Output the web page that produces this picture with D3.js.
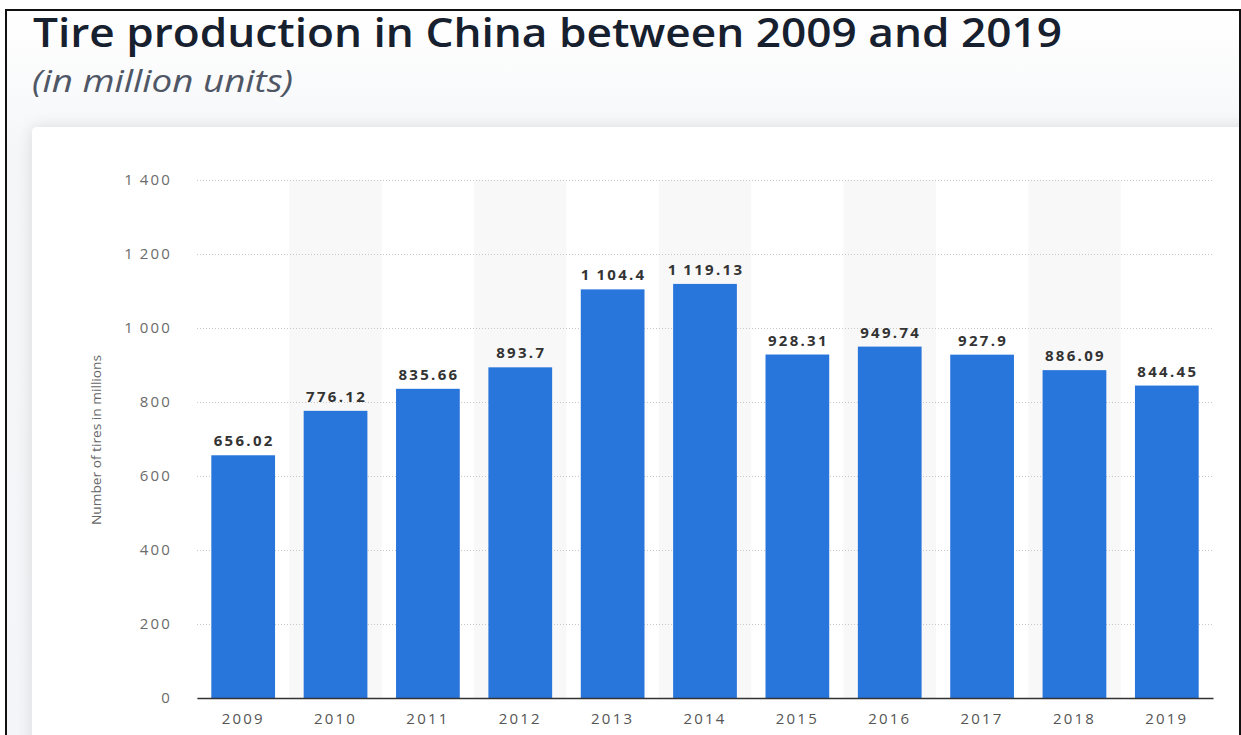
<!DOCTYPE html>
<html>
<head>
<meta charset="utf-8">
<script src="https://cdn.jsdelivr.net/npm/d3@7"></script>
<style>
  body { margin: 0; background: #ffffff; }
  svg { display: block; }
</style>
</head>
<body>
<svg id="chart"></svg>
<script>
// chart values
const years = ["2009", "2010", "2011", "2012", "2013", "2014", "2015", "2016", "2017", "2018", "2019"];
const production = [656.02, 776.12, 835.66, 893.7, 1104.4, 1119.13, 928.31, 949.74, 927.9, 886.09, 844.45];
const yTicks = [0, 200, 400, 600, 800, 1000, 1200, 1400];

const width = 1241, height = 735;
const margin = { top: 180, right: 28, bottom: 37, left: 197 };

const svg = d3.select("#chart").attr("width", width).attr("height", height);

const defs = svg.append("defs");
const bgGrad = defs.append("linearGradient").attr("id", "bg").attr("x1", 0).attr("y1", 0).attr("x2", 0).attr("y2", 1);
bgGrad.append("stop").attr("offset", "0").attr("stop-color", "#ffffff");
bgGrad.append("stop").attr("offset", "0.2").attr("stop-color", "#f5f6f8");
bgGrad.append("stop").attr("offset", "1").attr("stop-color", "#f4f5f8");
const shadow = defs.append("filter").attr("id", "shadow").attr("x", -0.05).attr("y", -0.1).attr("width", 1.1).attr("height", 1.2);
shadow.append("feGaussianBlur").attr("in", "SourceAlpha").attr("stdDeviation", 8);
shadow.append("feComponentTransfer").append("feFuncA").attr("type", "linear").attr("slope", 0.12);
const merge = shadow.append("feMerge");
merge.append("feMergeNode");
merge.append("feMergeNode").attr("in", "SourceGraphic");

// page background and card
svg.append("rect").attr("x", 6).attr("y", 10).attr("width", 1233).attr("height", 725).attr("fill", "url(#bg)");
svg.append("rect")
    .attr("x", 32).attr("y", 127).attr("width", 1240).attr("height", 640)
    .attr("rx", 5).attr("fill", "#ffffff").attr("filter", "url(#shadow)");

// frame lines
svg.append("line").attr("x1", 6).attr("x2", 6).attr("y1", 9).attr("y2", 735).attr("stroke", "#111").attr("stroke-width", 2);
svg.append("line").attr("x1", 5).attr("x2", 1241).attr("y1", 10).attr("y2", 10).attr("stroke", "#111").attr("stroke-width", 2);
svg.append("line").attr("x1", 1240).attr("x2", 1240).attr("y1", 9).attr("y2", 735).attr("stroke", "#111").attr("stroke-width", 2);

// titles
svg.append("text")
    .attr("x", 33).attr("y", 47)
    .attr("font-family", "Open Sans").attr("font-weight", 600).attr("font-size", 40)
    .attr("textLength", 1029).attr("lengthAdjust", "spacingAndGlyphs")
    .attr("fill", "#17202e")
    .text("Tire production in China between 2009 and 2019");
svg.append("text")
    .attr("x", 32).attr("y", 92)
    .attr("font-family", "Open Sans").attr("font-style", "italic").attr("font-size", 31)
    .attr("textLength", 261).attr("lengthAdjust", "spacingAndGlyphs")
    .attr("fill", "#4f5766")
    .text("(in million units)");

const innerW = width - margin.left - margin.right;
const innerH = height - margin.top - margin.bottom;

const x = d3.scaleBand().domain(years).range([0, innerW]).padding(0);
const y = d3.scaleLinear().domain([0, 1400]).range([innerH, 0]);

const fmt = d3.formatLocale({ decimal: ".", thousands: "\u2009", grouping: [3], currency: ["", ""] });
const tickFmt = fmt.format(",");
const valFmt = v => fmt.format(",")(v);

const chart = svg.append("g").attr("transform", `translate(${margin.left},${margin.top})`);

// alternating column shading
chart.selectAll(".stripe")
    .data(years.filter((d, i) => i % 2 === 1))
    .join("rect")
    .attr("class", "stripe")
    .attr("x", d => x(d))
    .attr("y", 0)
    .attr("width", x.bandwidth())
    .attr("height", innerH)
    .attr("fill", "#f8f8f8");

// y axis with dotted grid
const yAxis = d3.axisLeft(y).tickValues(yTicks).tickSize(-innerW).tickPadding(25).tickFormat(tickFmt);
const yAxisG = chart.append("g").call(yAxis);
yAxisG.select(".domain").remove();
yAxisG.selectAll(".tick line")
    .attr("stroke", "#c8c8c8").attr("stroke-dasharray", "1,2");
yAxisG.selectAll(".tick text")
    .attr("font-family", "Open Sans").attr("font-size", 15).attr("letter-spacing", 2.2)
    .attr("fill", "#6b6b6b");

// bars
const barW = x.bandwidth() * 0.69;
chart.selectAll(".bar")
    .data(years)
    .join("rect")
    .attr("class", "bar")
    .attr("x", d => x(d) + (x.bandwidth() - barW) / 2)
    .attr("y", (d, i) => y(production[i]))
    .attr("width", barW)
    .attr("height", (d, i) => innerH - y(production[i]))
    .attr("fill", "#2875dc");

// value labels
chart.selectAll(".val")
    .data(years)
    .join("text")
    .attr("class", "val")
    .attr("x", d => x(d) + x.bandwidth() / 2 + 1)
    .attr("y", (d, i) => y(production[i]) - 9)
    .attr("text-anchor", "middle")
    .attr("font-family", "Open Sans").attr("font-weight", 700).attr("font-size", 15)
    .attr("letter-spacing", 2.3)
    .attr("fill", "#333")
    .text((d, i) => valFmt(production[i]));

// x axis
const xAxisG = chart.append("g")
    .attr("transform", `translate(0,${innerH})`)
    .call(d3.axisBottom(x).tickSize(0).tickPadding(15));
xAxisG.select(".domain").attr("stroke", "#333").attr("stroke-width", 1.5);
xAxisG.selectAll(".tick text")
    .attr("font-family", "Open Sans").attr("font-size", 15).attr("letter-spacing", 2.2)
    .attr("fill", "#555");

// y axis title
svg.append("text")
    .attr("transform", "translate(101,440) rotate(-90)")
    .attr("text-anchor", "middle")
    .attr("font-family", "Open Sans").attr("font-size", 12.5)
    .attr("textLength", 170).attr("lengthAdjust", "spacingAndGlyphs")
    .attr("fill", "#666")
    .text("Number of tires in millions");
</script>
</body>
</html>
